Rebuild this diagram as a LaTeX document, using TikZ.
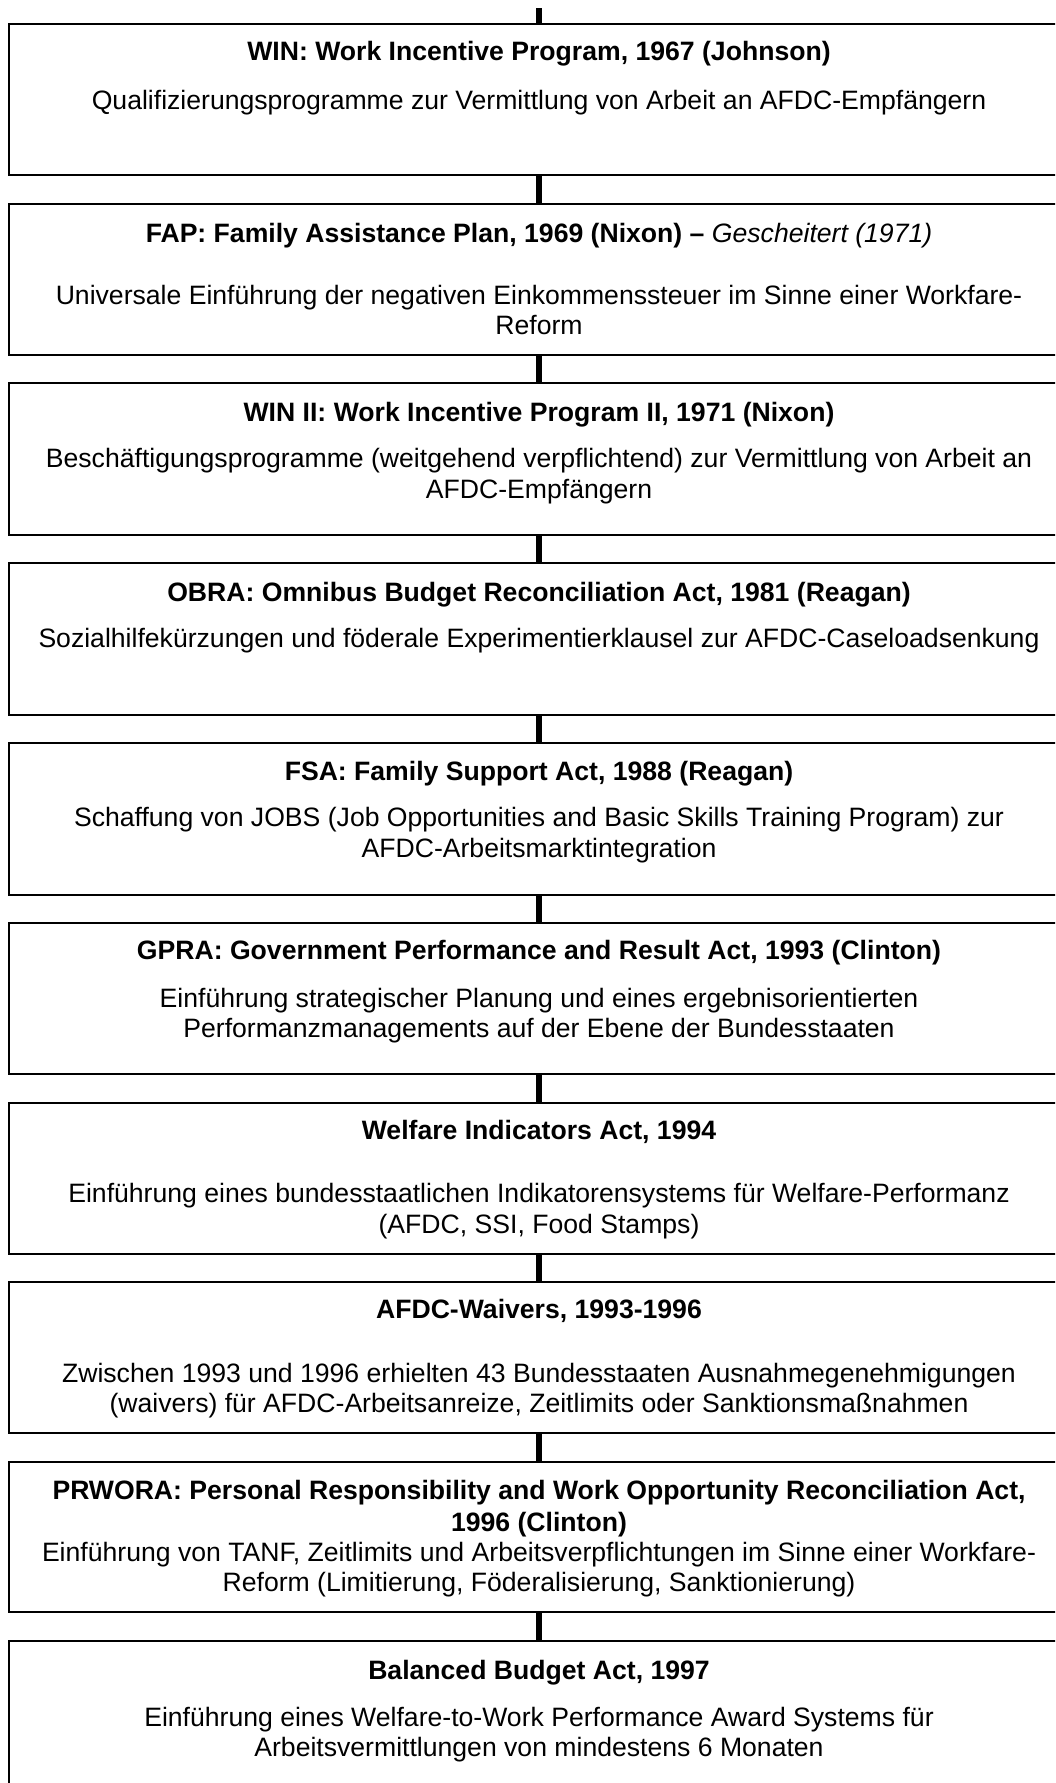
\documentclass[tikz,border=0pt]{standalone}
\usepackage{fontspec}
\setmainfont{Liberation Sans}
\begin{document}
\begin{tikzpicture}[x=0.5pt,y=-0.5pt,
  boxnode/.style={draw=black, line width=0.8pt, rectangle, minimum width=530pt, inner sep=0pt},
  conn/.style={line width=3pt, draw=black},
  ttl/.style={anchor=base, inner sep=0pt, font=\fontsize{13.3}{15}\selectfont\bfseries},
  txt/.style={anchor=base, inner sep=0pt, font=\fontsize{13.3}{15}\selectfont}]
\clip (0,0) rectangle (1055,1783);
% boxes
\node[boxnode, minimum height=75.5pt] (b1) at (539,99.5) {};
\node[boxnode, minimum height=75.5pt] (b2) at (539,279.5) {};
\node[boxnode, minimum height=76pt] (b3) at (539,459) {};
\node[boxnode, minimum height=76pt] (b4) at (539,639) {};
\node[boxnode, minimum height=76pt] (b5) at (539,819) {};
\node[boxnode, minimum height=75.5pt] (b6) at (539,998.5) {};
\node[boxnode, minimum height=75.5pt] (b7) at (539,1178.5) {};
\node[boxnode, minimum height=75.5pt] (b8) at (539,1357.5) {};
\node[boxnode, minimum height=75pt] (b9) at (539,1537) {};
\node[boxnode, minimum height=79.5pt] (b10) at (539,1720.5) {};
% connectors
\coordinate (start) at (539,8);
\draw[conn] (start) -- (b1.north);
\draw[conn] (b1.south) -- (b2.north);
\draw[conn] (b2.south) -- (b3.north);
\draw[conn] (b3.south) -- (b4.north);
\draw[conn] (b4.south) -- (b5.north);
\draw[conn] (b5.south) -- (b6.north);
\draw[conn] (b6.south) -- (b7.north);
\draw[conn] (b7.south) -- (b8.north);
\draw[conn] (b8.south) -- (b9.north);
\draw[conn] (b9.south) -- (b10.north);
% texts
\node[ttl] (t1) at (539,60) {WIN: Work Incentive Program, 1967 (Johnson)};
\node[txt] (d1) at (539,109) {Qualifizierungsprogramme zur Vermittlung von Arbeit an AFDC-Empfängern};

\node[ttl] (t2) at (539,242) {FAP: Family Assistance Plan, 1969 (Nixon) – {\mdseries\itshape Gescheitert (1971)}};
\node[txt] (d2a) at (539,304) {Universale Einführung der negativen Einkommenssteuer im Sinne einer Workfare-};
\node[txt] (d2b) at (539,334) {Reform};

\node[ttl] (t3) at (539,421) {WIN II: Work Incentive Program II, 1971 (Nixon)};
\node[txt] (d3a) at (539,467) {Beschäftigungsprogramme (weitgehend verpflichtend) zur Vermittlung von Arbeit an};
\node[txt] (d3b) at (539,498) {AFDC-Empfängern};

\node[ttl] (t4) at (539,601) {OBRA: Omnibus Budget Reconciliation Act, 1981 (Reagan)};
\node[txt] (d4) at (539,647) {Sozialhilfekürzungen und föderale Experimentierklausel zur AFDC-Caseloadsenkung};

\node[ttl] (t5) at (539,780) {FSA: Family Support Act, 1988 (Reagan)};
\node[txt] (d5a) at (539,826) {Schaffung von JOBS (Job Opportunities and Basic Skills Training Program) zur};
\node[txt] (d5b) at (539,857) {AFDC-Arbeitsmarktintegration};

\node[ttl] (t6) at (539,959) {GPRA: Government Performance and Result Act, 1993 (Clinton)};
\node[txt] (d6a) at (539,1007) {Einführung strategischer Planung und eines ergebnisorientierten};
\node[txt] (d6b) at (539,1037) {Performanzmanagements auf der Ebene der Bundesstaaten};

\node[ttl] (t7) at (539,1139) {Welfare Indicators Act, 1994};
\node[txt] (d7a) at (539,1202) {Einführung eines bundesstaatlichen Indikatorensystems für Welfare-Performanz};
\node[txt] (d7b) at (539,1233) {(AFDC, SSI, Food Stamps)};

\node[ttl] (t8) at (539,1318) {AFDC-Waivers, 1993-1996};
\node[txt] (d8a) at (539,1382) {Zwischen 1993 und 1996 erhielten 43 Bundesstaaten Ausnahmegenehmigungen};
\node[txt] (d8b) at (539,1412) {(waivers) für AFDC-Arbeitsanreize, Zeitlimits oder Sanktionsmaßnahmen};

\node[ttl] (t9a) at (539,1499) {PRWORA: Personal Responsibility and Work Opportunity Reconciliation Act,};
\node[ttl] (t9b) at (539,1531) {1996 (Clinton)};
\node[txt] (d9a) at (539,1561) {Einführung von TANF, Zeitlimits und Arbeitsverpflichtungen im Sinne einer Workfare-};
\node[txt] (d9b) at (539,1591) {Reform (Limitierung, Föderalisierung, Sanktionierung)};

\node[ttl] (t10) at (539,1679) {Balanced Budget Act, 1997};
\node[txt] (d10a) at (539,1726) {Einführung eines Welfare-to-Work Performance Award Systems für};
\node[txt] (d10b) at (539,1756) {Arbeitsvermittlungen von mindestens 6 Monaten};
\end{tikzpicture}
\end{document}
